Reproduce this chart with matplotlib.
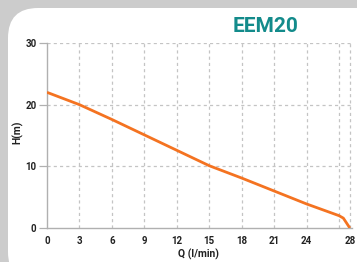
import numpy as np
import matplotlib
matplotlib.use("Agg")
import matplotlib.pyplot as plt
from matplotlib.patches import FancyBboxPatch
from matplotlib.transforms import IdentityTransform

# pump curve
flow = [0, 3, 6, 9, 12, 15, 18, 21, 24, 27, 27.4, 28]
head = [22, 20, 17.6, 15.1, 12.6, 10.1, 8.1, 6.0, 3.9, 2.0, 1.6, 0]
x_ticks = [0, 3, 6, 9, 12, 15, 18, 21, 24, 28]
x_grid = [3, 6, 9, 12, 15, 18, 21, 24, 27, 28]
y_ticks = [0, 10, 20, 30]

plt.rcParams['font.family'] = ['Roboto', 'DejaVu Sans']

fig = plt.figure(figsize=(3.57, 2.62), dpi=100)
fig.patch.set_facecolor('#cccccc')

# white rounded panel, behind the axes
panel = FancyBboxPatch((8, -20), 420, 274, boxstyle="round,pad=0,rounding_size=30",
                       transform=IdentityTransform(), facecolor='white', edgecolor='none',
                       zorder=-5)
fig.patches.append(panel)

ax = fig.add_axes([47/357, 34/262, 305/357, 185/262])
ax.set_facecolor('none')

for xg in x_grid:
    ax.axvline(xg, color='#c4c4c4', lw=0.9, ls=(0, (2.5, 2.5)), zorder=1)
for yg in y_ticks[1:]:
    ax.axhline(yg, color='#c4c4c4', lw=0.9, ls=(0, (2.5, 2.5)), zorder=1)

ax.plot(flow, head, color='#f47321', lw=2.0, solid_capstyle='butt', zorder=3)

ax.set_xlim(0, 28.2)
ax.set_ylim(0, 30)
ax.set_xticks(x_ticks)
ax.set_yticks(y_ticks)
ax.tick_params(axis='x', length=0, pad=6, labelsize=7, colors='#222222')
ax.tick_params(axis='y', length=6, width=0.9, pad=1.5, labelsize=7,
               color='#b0b0b0', labelcolor='#222222')
for lab in ax.get_xticklabels() + ax.get_yticklabels():
    lab.set_fontweight('bold')

for s in ['top', 'right']:
    ax.spines[s].set_visible(False)
for s in ['left', 'bottom']:
    ax.spines[s].set_color('#b0b0b0')
    ax.spines[s].set_linewidth(1.0)

fig.text(18/357, 1 - 132/262, 'H(m)', rotation=90, ha='center', va='center',
         fontsize=7.5, fontweight='bold', color='#222222')
fig.text(198/357, 1 - 254/262, 'Q (l/min)', ha='center', va='center',
         fontsize=7.5, fontweight='bold', color='#222222')
fig.text(266/357, 1 - 26/262, 'EEM20', ha='center', va='center',
         fontsize=15, fontweight='bold', color='#138b8b')

fig.savefig('out.png', dpi=100, facecolor=fig.get_facecolor())
